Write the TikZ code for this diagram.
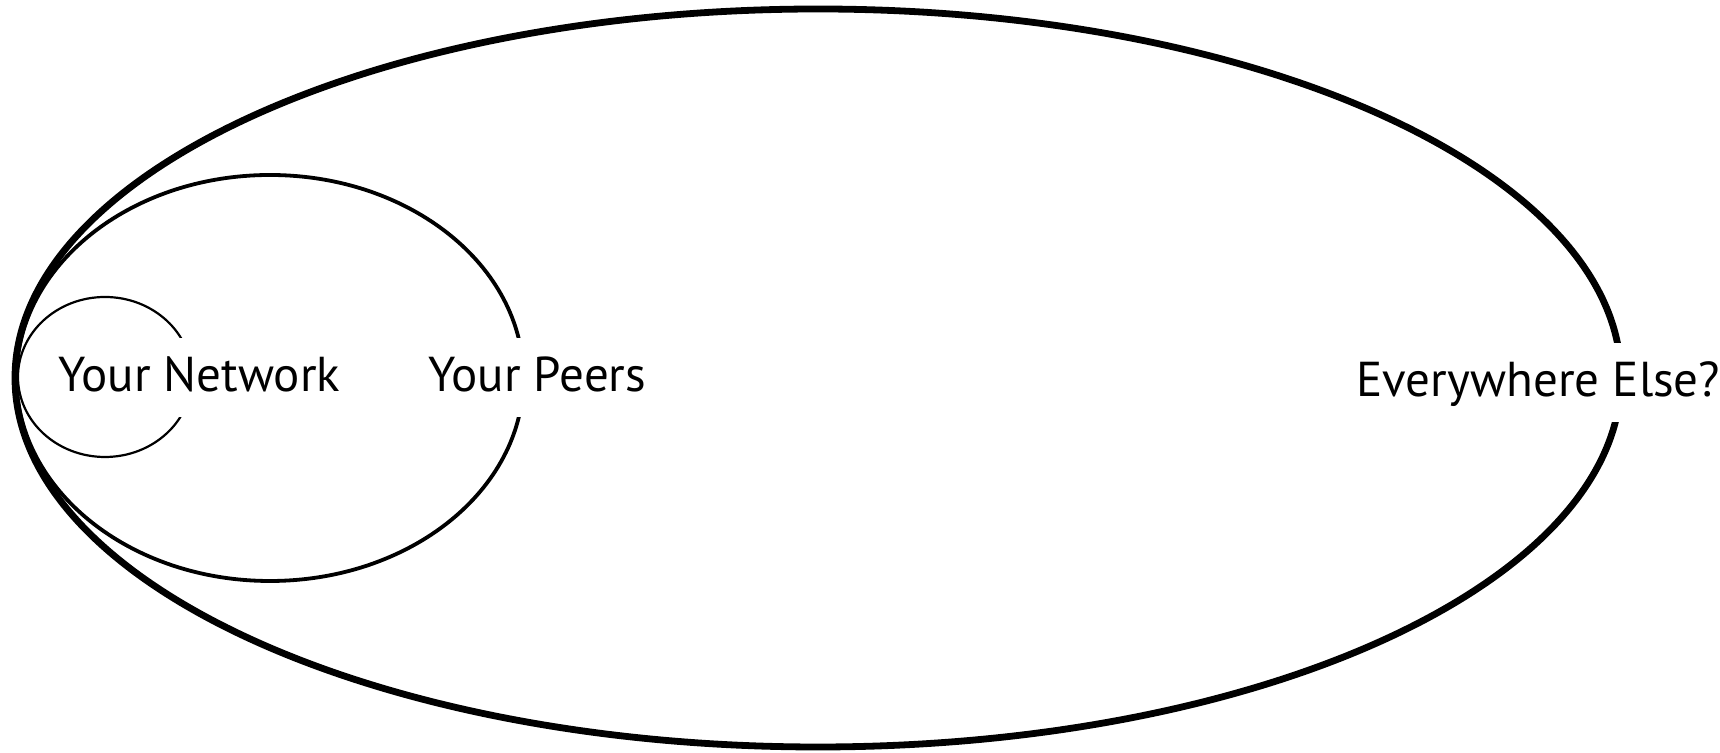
\documentclass[tikz,border=0pt]{standalone}
\usepackage{fontspec}
\setmainfont{PT Sans}
\begin{document}
\begin{tikzpicture}[x=0.5pt,y=0.5pt,
  outerring/.style={draw=black, line width=3.4pt},
  midring/.style={draw=black, line width=1.9pt},
  innerring/.style={draw=black, line width=1.1pt},
  lbl/.style={fill=white, inner xsep=3pt, inner ysep=0pt, text height=27pt, text depth=12.5pt,
    anchor=base west, font=\fontsize{24.5}{29}\selectfont}]
\useasboundingbox (0,0) rectangle (1720,753);
\draw[outerring] (818,375) ellipse [x radius=803, y radius=369];
\draw[midring] (270,375) ellipse [x radius=253.5, y radius=203];
\draw[innerring] (105,376) ellipse [x radius=87, y radius=80];
\node[lbl] (net) at (52,361) {Your Network};
\node[lbl] (peers) at (422,361) {Your Peers};
\node[lbl] (else) at (1350,356) {Everywhere Else?};
\end{tikzpicture}
\end{document}
